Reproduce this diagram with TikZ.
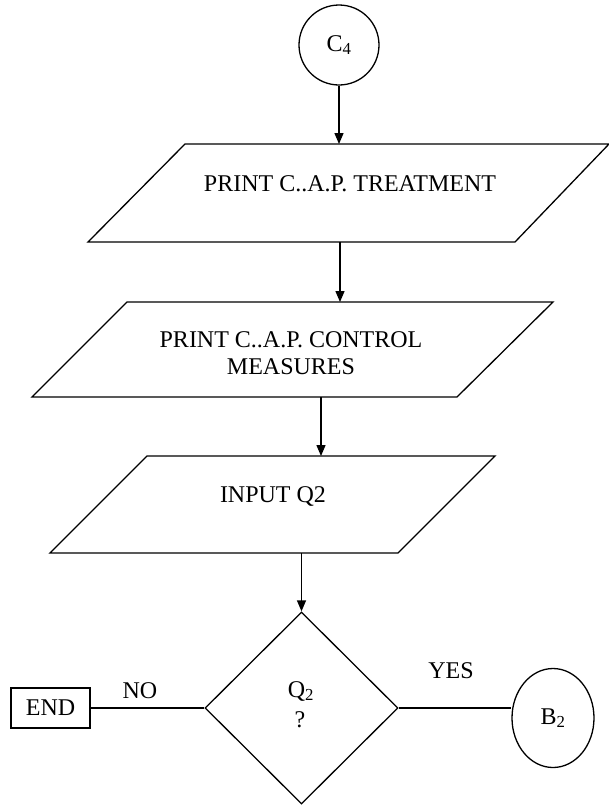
\documentclass[tikz,border=0pt]{standalone}
\usepackage{fontspec}
\setmainfont{Liberation Serif}
\usetikzlibrary{arrows.meta,shapes.geometric}
\begin{document}
\begin{tikzpicture}[x=1pt,y=-1pt,
  lw/.style={line width=1.3pt},
  arr/.style={line width=1.3pt,-{Triangle[length=11pt,width=9pt]}},
  lbl/.style={font=\fontsize{24}{27}\selectfont, inner sep=0pt},
]
\useasboundingbox (0,0) rectangle (609,809);
% start connector
\node[circle, draw, lw, minimum size=80pt, inner sep=0pt, lbl] (c4) at (339,45) {C\textsubscript{4}};
% parallelograms
\draw[lw] (185,144) -- (609,144) -- (515,242) -- (88,242) -- cycle;
\draw[lw] (127,302) -- (553,302) -- (457,397) -- (32,397) -- cycle;
\draw[lw] (147,456) -- (495,456) -- (398,553) -- (50,553) -- cycle;
\coordinate (p1t) at (339,144);
\coordinate (p1b) at (340,242);
\coordinate (p2t) at (340,302);
\coordinate (p2b) at (321,397);
\coordinate (p3t) at (321,456);
\coordinate (p3b) at (301.5,553);
\node[lbl, anchor=base] (t1) at (350,191) {PRINT C..A.P. TREATMENT};
\node[lbl, anchor=base] (t2a) at (291,347) {PRINT C..A.P. CONTROL};
\node[lbl, anchor=base] (t2b) at (291,374) {MEASURES};
\node[lbl, anchor=base] (t3) at (273,502) {INPUT Q2};
% decision
\node[diamond, draw, lw, minimum width=193pt, minimum height=192pt, inner sep=0pt] (dec) at (301.5,708) {};
\node[lbl, anchor=base] (q2) at (301,697) {Q\textsubscript{2}};
\node[lbl, anchor=base] (qm) at (300,727) {?};
\node[draw, lw, minimum width=79pt, minimum height=40pt, inner sep=0pt, lbl] (end) at (50.5,708) {END};
\node[ellipse, draw, lw, minimum width=82pt, minimum height=99pt, inner sep=0pt, lbl] (b2) at (553,718) {B\textsubscript{2}};
\node[lbl, anchor=base] (no) at (140,698) {NO};
\node[lbl, anchor=base] (yes) at (451,678) {YES};
% connectors
\draw[arr] (c4) -- (p1t);
\draw[arr] (p1b) -- (p2t);
\draw[arr] (p2b) -- (p3t);
\draw[arr] (p3b) -- (dec.north);
\draw[lw] (dec.west) -- (end.east);
\draw[lw] (dec.east) -- (b2.west |- dec.east);
\end{tikzpicture}
\end{document}
